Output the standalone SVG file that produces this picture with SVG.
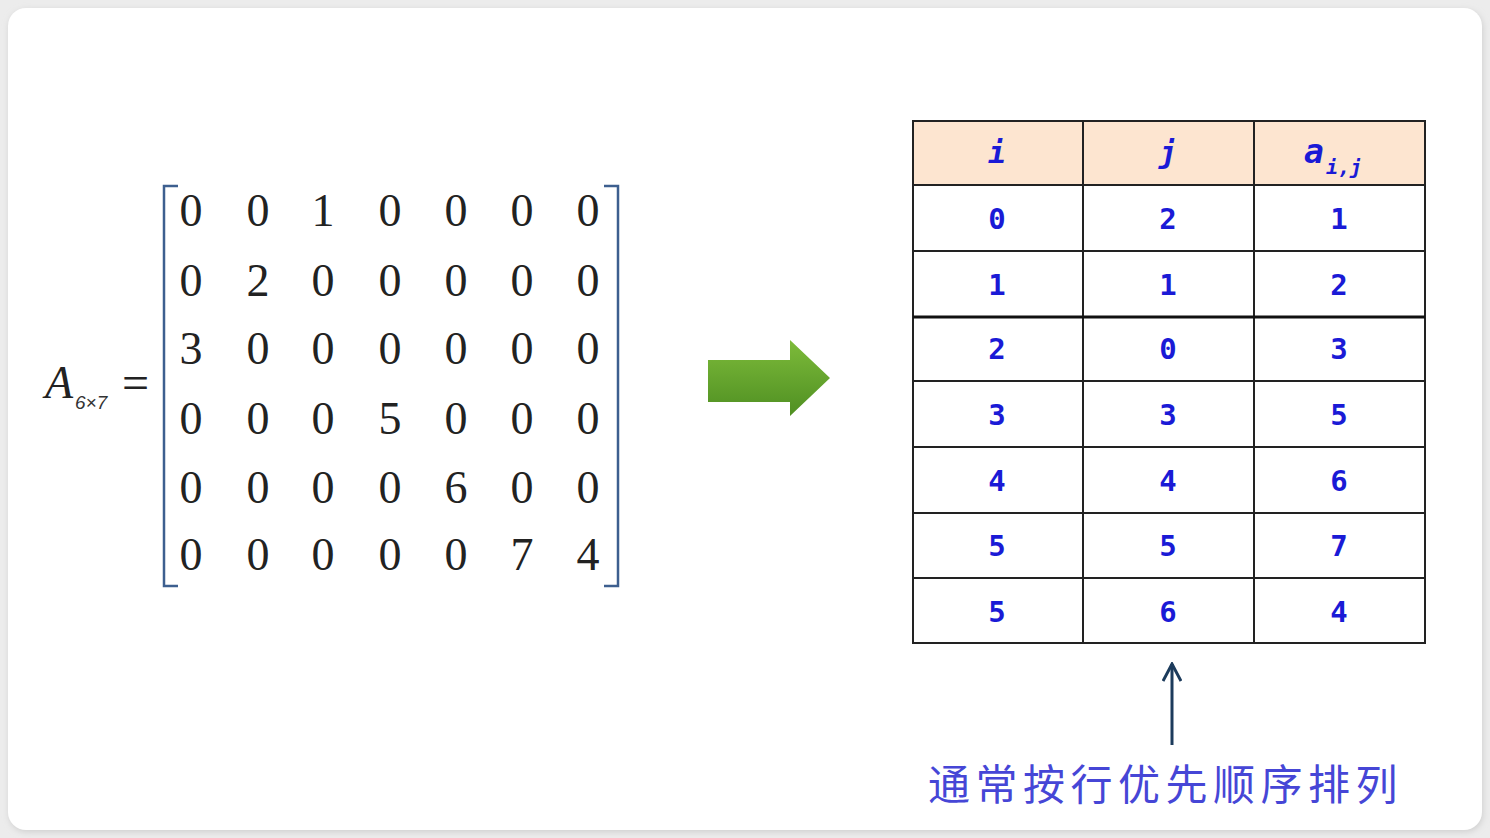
<svg xmlns="http://www.w3.org/2000/svg" width="1490" height="838" viewBox="0 0 1490 838">
<defs>
<linearGradient id="gArrow" x1="0" y1="0" x2="0" y2="1">
<stop offset="0" stop-color="#7dbb3a"/>
<stop offset="1" stop-color="#4f8f22"/>
</linearGradient>
<filter id="shadow" x="-5%" y="-5%" width="110%" height="110%">
<feGaussianBlur stdDeviation="3"/>
</filter>
<marker id="upHead" viewBox="0 0 20 20" refX="18" refY="10" markerWidth="20" markerHeight="20" markerUnits="userSpaceOnUse" orient="auto">
<path d="M1,1 L18,10 L1,19" fill="none" stroke="#1c3b5c" stroke-width="3"/>
</marker>
<style>
.m{font-family:"Liberation Serif","Times New Roman",serif;font-size:46px;fill:#222;text-anchor:middle}
.t{font-family:"DejaVu Sans Mono","Liberation Mono",monospace;font-weight:bold;font-size:29px;fill:#1a1ad6;text-anchor:middle}
.h{font-family:"DejaVu Sans Mono","Liberation Mono",monospace;font-weight:bold;font-style:italic;fill:#1a1ad6}
.grid{stroke:#222;stroke-width:2;fill:none}
.br{stroke:#3d5f8f;stroke-width:2.5;fill:none}
</style>
</defs>
<rect x="0" y="0" width="1490" height="838" fill="#ececec"/>
<rect x="9" y="10" width="1474" height="822" rx="18" fill="#cfcfcf" filter="url(#shadow)"/>
<rect x="8" y="8" width="1474" height="822" rx="18" fill="#ffffff"/>

<g id="matrix">
<text x="45" y="398" style="font-family:'Liberation Serif',serif;font-style:italic;font-size:46px;fill:#222">A</text>
<text x="75" y="409" style="font-family:'Liberation Sans',Arial,sans-serif;font-style:italic;font-size:19px;fill:#333">6×7</text>
<text x="122" y="399" style="font-family:'Liberation Serif',serif;font-size:48px;fill:#222">=</text>
<path class="br" d="M178,186 L164,186 L164,586 L178,586"/>
<path class="br" d="M604,186 L618,186 L618,586 L604,586"/>
<g>
<text class="m" x="191" y="226">0</text><text class="m" x="258" y="226">0</text><text class="m" x="323" y="226">1</text><text class="m" x="390" y="226">0</text><text class="m" x="456" y="226">0</text><text class="m" x="522" y="226">0</text><text class="m" x="588" y="226">0</text>
<text class="m" x="191" y="296">0</text><text class="m" x="258" y="296">2</text><text class="m" x="323" y="296">0</text><text class="m" x="390" y="296">0</text><text class="m" x="456" y="296">0</text><text class="m" x="522" y="296">0</text><text class="m" x="588" y="296">0</text>
<text class="m" x="191" y="364">3</text><text class="m" x="258" y="364">0</text><text class="m" x="323" y="364">0</text><text class="m" x="390" y="364">0</text><text class="m" x="456" y="364">0</text><text class="m" x="522" y="364">0</text><text class="m" x="588" y="364">0</text>
<text class="m" x="191" y="434">0</text><text class="m" x="258" y="434">0</text><text class="m" x="323" y="434">0</text><text class="m" x="390" y="434">5</text><text class="m" x="456" y="434">0</text><text class="m" x="522" y="434">0</text><text class="m" x="588" y="434">0</text>
<text class="m" x="191" y="503">0</text><text class="m" x="258" y="503">0</text><text class="m" x="323" y="503">0</text><text class="m" x="390" y="503">0</text><text class="m" x="456" y="503">6</text><text class="m" x="522" y="503">0</text><text class="m" x="588" y="503">0</text>
<text class="m" x="191" y="570">0</text><text class="m" x="258" y="570">0</text><text class="m" x="323" y="570">0</text><text class="m" x="390" y="570">0</text><text class="m" x="456" y="570">0</text><text class="m" x="522" y="570">7</text><text class="m" x="588" y="570">4</text>
</g>
</g>

<g id="table">
<rect x="913" y="121" width="512" height="64" fill="#fde5d0"/>
<rect class="grid" x="913" y="121" width="512" height="522"/>
<path class="grid" d="M1083,121 V643 M1254,121 V643 M913,185 H1425 M913,251 H1425 M913,381 H1425 M913,447 H1425 M913,513 H1425 M913,578 H1425"/>
<path d="M913,317 H1425" stroke="#111" stroke-width="3"/>
<text class="h" x="997" y="163" text-anchor="middle" font-size="30">i</text>
<text class="h" x="1168" y="163" text-anchor="middle" font-size="30">j</text>
<text class="h" x="1304" y="163" font-size="33">a</text>
<text class="h" x="1326" y="174" font-size="20">i,j</text>
<text class="t" x="997" y="229">0</text><text class="t" x="1168" y="229">2</text><text class="t" x="1339" y="229">1</text>
<text class="t" x="997" y="295">1</text><text class="t" x="1168" y="295">1</text><text class="t" x="1339" y="295">2</text>
<text class="t" x="997" y="359">2</text><text class="t" x="1168" y="359">0</text><text class="t" x="1339" y="359">3</text>
<text class="t" x="997" y="425">3</text><text class="t" x="1168" y="425">3</text><text class="t" x="1339" y="425">5</text>
<text class="t" x="997" y="491">4</text><text class="t" x="1168" y="491">4</text><text class="t" x="1339" y="491">6</text>
<text class="t" x="997" y="556">5</text><text class="t" x="1168" y="556">5</text><text class="t" x="1339" y="556">7</text>
<text class="t" x="997" y="622">5</text><text class="t" x="1168" y="622">6</text><text class="t" x="1339" y="622">4</text>
</g>

<g id="note">
<text x="928" y="800" style="font-family:'Noto Sans CJK SC','Noto Sans CJK JP',sans-serif;font-size:42px;font-weight:400;letter-spacing:5.5px;fill:#4646d6">通常按行优先顺序排列</text>
</g>

<g id="connectors">
<polygon points="708,360 790,360 790,340 830,378 790,416 790,402 708,402" fill="url(#gArrow)"/>
<line x1="1172" y1="745" x2="1172" y2="664" stroke="#1c3b5c" stroke-width="3" marker-end="url(#upHead)"/>
</g>
</svg>
